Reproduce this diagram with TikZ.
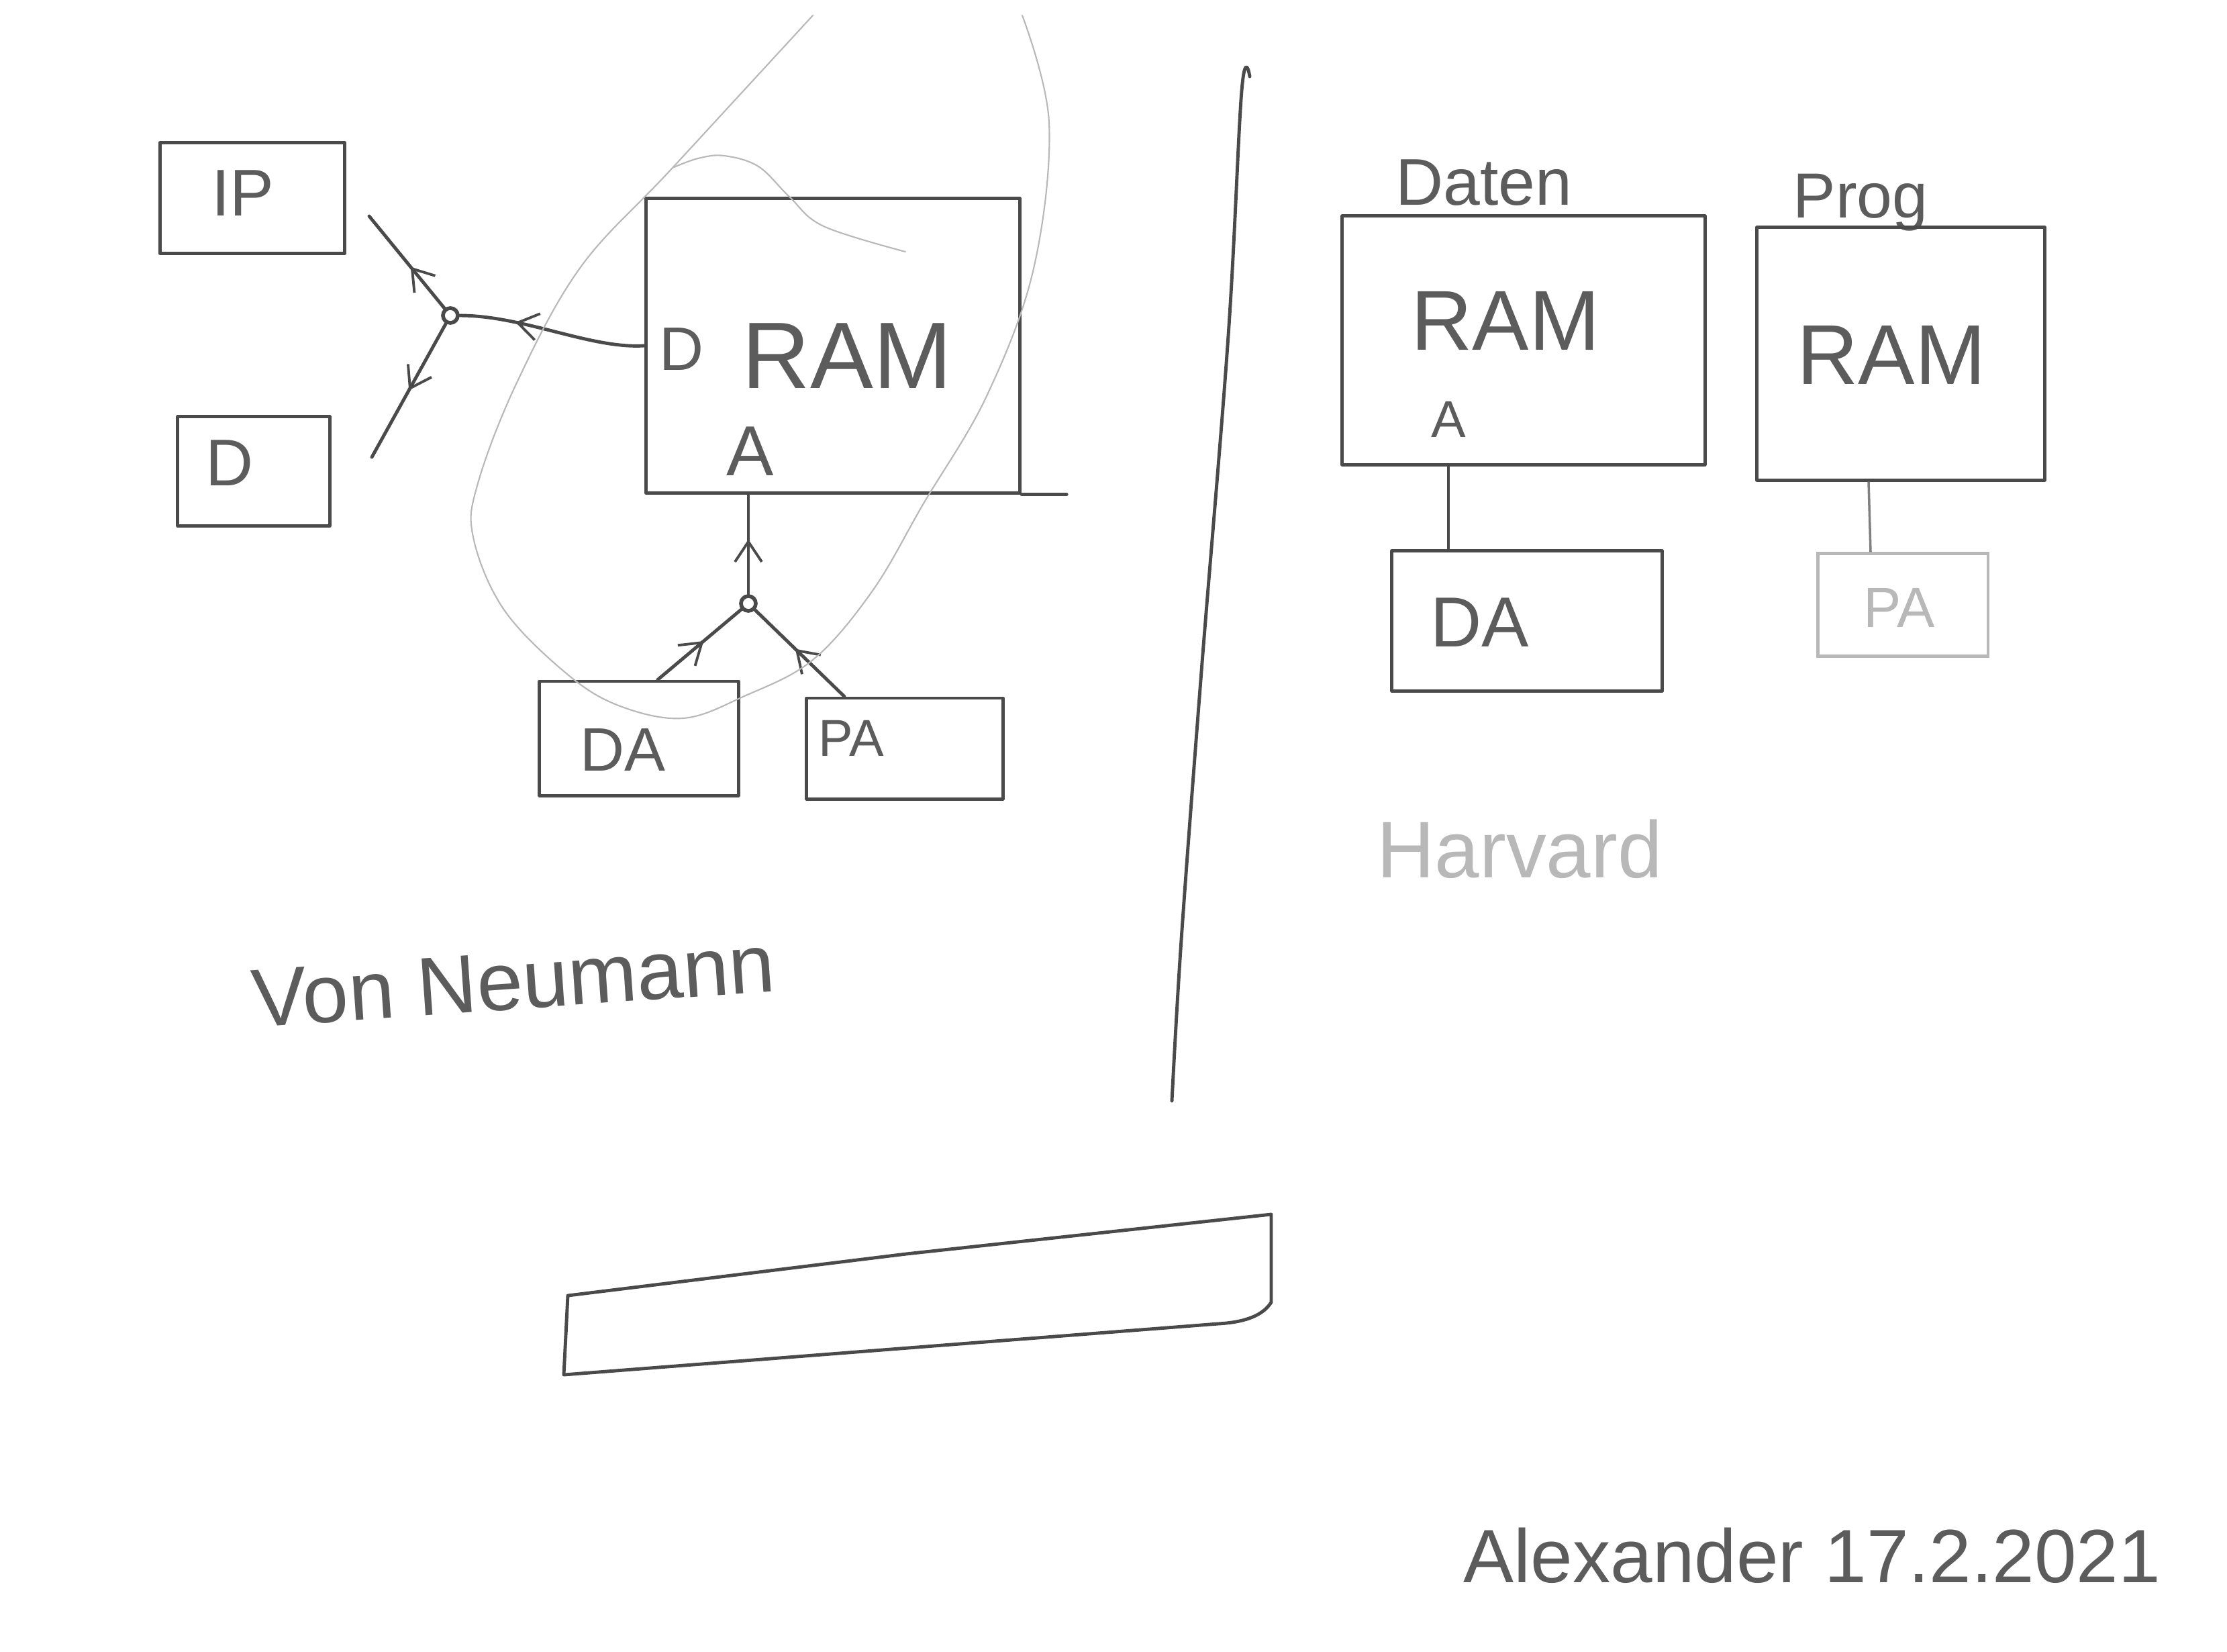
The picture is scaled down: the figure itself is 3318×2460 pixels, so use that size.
\documentclass[tikz,border=0pt]{standalone}
\usepackage{fontspec}
\setmainfont{Liberation Sans}
\usetikzlibrary{arrows.meta,decorations.markings,calc}
\definecolor{inkc}{HTML}{4A4A4A}
\definecolor{faintc}{HTML}{B8B8B8}
\definecolor{textc}{HTML}{5C5C5C}
\newcommand\hfs[1]{\fontsize{#1}{#1}\selectfont}
\tikzset{
  ink/.style={draw=inkc, line width=1.4pt, line cap=round, line join=round},
  faint/.style={draw=faintc, line width=0.6pt, line cap=round},
  box/.style={ink, rectangle, inner sep=0pt},
  faintbox/.style={draw=faintc, line width=1.2pt, rectangle, inner sep=0pt},
  junc/.style={circle, draw=inkc, line width=1.6pt, minimum size=0.22cm, inner sep=0pt},
  hand/.style={text=textc, inner sep=0pt},
  midarrow/.style={postaction={decorate}, decoration={markings,
      mark=at position #1 with {\arrow{Straight Barb[length=0.3cm,width=0.4cm,line width=1.1pt]}}}},
}
\begin{document}
\begin{tikzpicture}[x=0.01cm, y=-0.01cm]
\useasboundingbox (0,0) rectangle (3318,2460);
\fill[white] (0,0) rectangle (3318,2460);

% ---------- Von Neumann side ----------
\node[box, minimum width=2.75cm, minimum height=1.65cm] (ip) at (376,295) {};
\node[hand, font=\hfs{28}] (iptxt) at (362,288) {IP};
\node[box, minimum width=2.26cm, minimum height=1.63cm] (d) at (378,702) {};
\node[hand, font=\hfs{28}] (dtxt) at (342,690) {D};

\node[junc] (j1) at (671,470) {};
\coordinate (ipend) at (550,322);
\coordinate (dend) at (554,681);

\node[box, minimum width=5.57cm, minimum height=4.38cm] (ram) at (1241,515) {};
\node[hand, font=\hfs{26}] (ramD) at (1016,520) {D};
\node[hand, font=\hfs{40}] (ramtxt) at (1262,530) {RAM};
\node[hand, font=\hfs{30}] (ramA) at (1118,672) {A};

\node[junc] (j2) at (1115,899) {};
\node[box, minimum width=2.96cm, minimum height=1.70cm] (da) at (952,1100) {};
\node[hand, font=\hfs{26}] (datxt) at (928,1117) {DA};
\node[box, minimum width=2.92cm, minimum height=1.50cm] (pa) at (1348,1115) {};
\node[hand, font=\hfs{22}] (patxt) at (1268,1100) {PA};

\draw[ink, midarrow=0.45] (j1) -- (ipend);
\draw[ink, midarrow=0.5] (j1) -- (dend);
\draw[ink, midarrow=0.7] (ram.west) .. controls (880,520) and (780,470) .. (j1);
\draw[ink] (ram.south east) -- ++(67,0);
\draw[ink, midarrow=0.55] (j2) -- (j2 |- ram.south);
\draw[ink, midarrow=0.55] ([xshift=0.28cm]da.north) -- (j2);
\draw[ink, midarrow=0.55] ([xshift=-0.9cm]pa.north) -- (j2);

% faint loop
\draw[faint] plot[smooth, tension=0.6] coordinates {(1211,23) (1002,250) (865,398) (770,570) (712,720) (705,800) (750,907) (840,1000) (919,1050) (1017,1070) (1109,1037) (1211,983) (1300,880) (1376,750) (1470,590) (1540,400) (1563,183) (1523,23)};
\draw[faint] plot[smooth, tension=0.6] coordinates {(1002,250) (1040,236) (1079,232) (1130,248) (1176,293) (1227,337) (1349,375)};

\node[hand, font=\hfs{35}, rotate=4] (vonneumann) at (765,1462) {Von Neumann};

% ---------- divider ----------
\draw[ink] plot[smooth, tension=0.6] coordinates {(1862,114) (1850,135) (1830,500) (1790,1000) (1760,1400) (1746,1640)};

% ---------- Harvard side ----------
\node[hand, font=\hfs{28}] (daten) at (2211,272) {Daten};
\node[box, minimum width=5.40cm, minimum height=3.70cm] (ramd) at (2270,507) {};
\node[hand, font=\hfs{36}] (ramdtxt) at (2243,478) {RAM};
\node[hand, font=\hfs{22}] (ramdA) at (2158,625) {A};
\node[box, minimum width=4.02cm, minimum height=2.09cm] (dad) at (2275,925) {};
\node[hand, font=\hfs{30}] (dadtxt) at (2205,927) {DA};
\draw[ink] (ramd.south -| ramdA) -- (dad.north -| ramdA);

\node[hand, font=\hfs{27}] (prog) at (2772,302) {Prog};
\node[box, minimum width=4.29cm, minimum height=3.76cm] (ramp) at (2832,527) {};
\node[hand, font=\hfs{36}] (ramptxt) at (2818,529) {RAM};
\node[faintbox, minimum width=2.53cm, minimum height=1.53cm] (pap) at (2835,901) {};
\node[hand, text=faintc, font=\hfs{24}] (paptxt) at (2830,905) {PA};
\draw[draw=gray, line width=1pt] ([xshift=-0.48cm]ramp.south) -- ([xshift=-0.48cm]pap.north);

\node[hand, text=faintc, font=\hfs{34}] (harvard) at (2264,1265) {Harvard};

% ---------- bottom shape ----------
\draw[ink] (846,1930) -- (1350,1868) -- (1894,1809) -- (1894,1940)
  .. controls (1880,1962) and (1850,1970) .. (1815,1972) -- (840,2048) -- cycle;

% ---------- signature ----------
\node[hand, font=\hfs{32}] (sig) at (2700,2317) {Alexander 17.2.2021};
\end{tikzpicture}
\end{document}
